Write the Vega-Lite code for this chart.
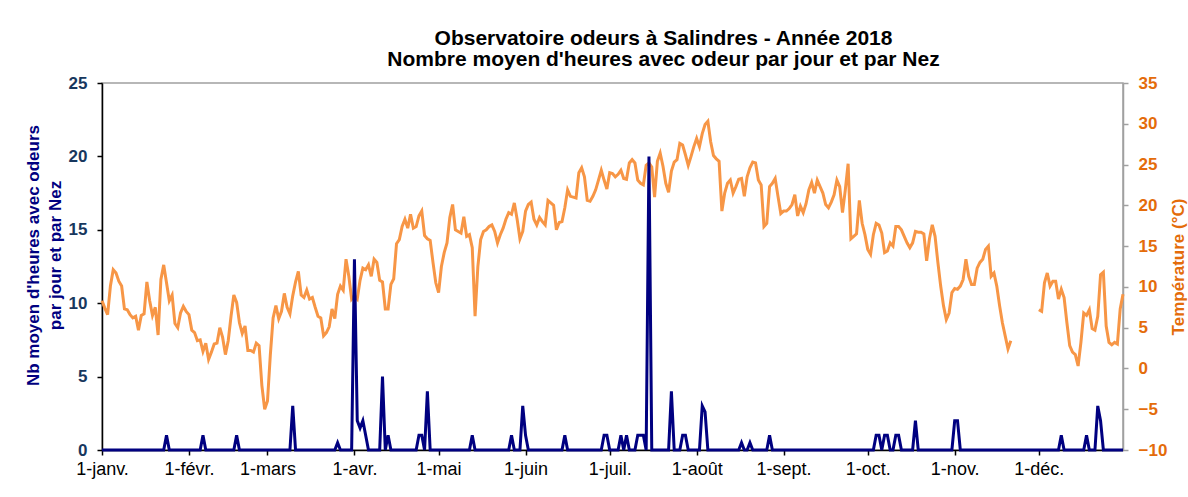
{
"$schema": "https://vega.github.io/schema/vega-lite/v6.json",
"width": 1021, "height": 367,
"autosize": {"type": "none"},
"padding": {"left": 102, "top": 83, "right": 65, "bottom": 47},
"background": "white",
"title": {"text": ["Observatoire odeurs à Salindres - Année 2018", "Nombre moyen d'heures avec odeur par jour et par Nez"], "font": "Liberation Sans", "fontSize": 21, "fontWeight": "bold", "color": "black", "anchor": "middle", "dx": 51, "offset": 4, "lineHeight": 21},
"config": {"view": {"stroke": "#A0A0A0", "strokeWidth": 1.5}, "font": "Liberation Sans"},
"data": {"values": [
{"d":"2018-01-01","t":8.3,"h":0},{"d":"2018-01-02","t":7.4,"h":0},{"d":"2018-01-03","t":6.6,"h":0},{"d":"2018-01-04","t":10.1,"h":0},{"d":"2018-01-05","t":12.1,"h":0},{"d":"2018-01-06","t":11.7,"h":0},{"d":"2018-01-07","t":10.7,"h":0},{"d":"2018-01-08","t":10.1,"h":0},{"d":"2018-01-09","t":7.3,"h":0},{"d":"2018-01-10","t":7.2,"h":0},{"d":"2018-01-11","t":6.6,"h":0},{"d":"2018-01-12","t":6.2,"h":0},{"d":"2018-01-13","t":6.4,"h":0},{"d":"2018-01-14","t":4.7,"h":0},{"d":"2018-01-15","t":6.5,"h":0},{"d":"2018-01-16","t":6.7,"h":0},{"d":"2018-01-17","t":10.6,"h":0},{"d":"2018-01-18","t":8.3,"h":0},{"d":"2018-01-19","t":6.5,"h":0},{"d":"2018-01-20","t":7.5,"h":0},{"d":"2018-01-21","t":4.1,"h":0},{"d":"2018-01-22","t":10.9,"h":0},{"d":"2018-01-23","t":12.7,"h":0},{"d":"2018-01-24","t":10.5,"h":1},{"d":"2018-01-25","t":8.3,"h":0},{"d":"2018-01-26","t":9.0,"h":0},{"d":"2018-01-27","t":5.5,"h":0},{"d":"2018-01-28","t":5.0,"h":0},{"d":"2018-01-29","t":6.8,"h":0},{"d":"2018-01-30","t":7.6,"h":0},{"d":"2018-01-31","t":7.0,"h":0},
{"d":"2018-02-01","t":6.6,"h":0},{"d":"2018-02-02","t":4.7,"h":0},{"d":"2018-02-03","t":4.4,"h":0},{"d":"2018-02-04","t":3.4,"h":0},{"d":"2018-02-05","t":3.5,"h":0},{"d":"2018-02-06","t":2.1,"h":1},{"d":"2018-02-07","t":3.1,"h":0},{"d":"2018-02-08","t":1.1,"h":0},{"d":"2018-02-09","t":2.0,"h":0},{"d":"2018-02-10","t":3.0,"h":0},{"d":"2018-02-11","t":3.1,"h":0},{"d":"2018-02-12","t":5.0,"h":0},{"d":"2018-02-13","t":3.8,"h":0},{"d":"2018-02-14","t":1.7,"h":0},{"d":"2018-02-15","t":3.4,"h":0},{"d":"2018-02-16","t":6.4,"h":0},{"d":"2018-02-17","t":9.0,"h":0},{"d":"2018-02-18","t":8.1,"h":1},{"d":"2018-02-19","t":5.6,"h":0},{"d":"2018-02-20","t":4.3,"h":0},{"d":"2018-02-21","t":5.2,"h":0},{"d":"2018-02-22","t":2.2,"h":0},{"d":"2018-02-23","t":2.2,"h":0},{"d":"2018-02-24","t":2.0,"h":0},{"d":"2018-02-25","t":3.1,"h":0},{"d":"2018-02-26","t":2.8,"h":0},{"d":"2018-02-27","t":-2.1,"h":0},{"d":"2018-02-28","t":-5.0,"h":0},
{"d":"2018-03-01","t":-4.0,"h":0},{"d":"2018-03-02","t":1.6,"h":0},{"d":"2018-03-03","t":6.2,"h":0},{"d":"2018-03-04","t":7.7,"h":0},{"d":"2018-03-05","t":6.1,"h":0},{"d":"2018-03-06","t":7.0,"h":0},{"d":"2018-03-07","t":9.2,"h":0},{"d":"2018-03-08","t":7.5,"h":0},{"d":"2018-03-09","t":6.7,"h":0},{"d":"2018-03-10","t":8.9,"h":3},{"d":"2018-03-11","t":10.6,"h":0},{"d":"2018-03-12","t":11.9,"h":0},{"d":"2018-03-13","t":9.0,"h":0},{"d":"2018-03-14","t":8.7,"h":0},{"d":"2018-03-15","t":9.6,"h":0},{"d":"2018-03-16","t":8.5,"h":0},{"d":"2018-03-17","t":8.7,"h":0},{"d":"2018-03-18","t":7.5,"h":0},{"d":"2018-03-19","t":6.4,"h":0},{"d":"2018-03-20","t":6.2,"h":0},{"d":"2018-03-21","t":4.0,"h":0},{"d":"2018-03-22","t":4.4,"h":0},{"d":"2018-03-23","t":5.1,"h":0},{"d":"2018-03-24","t":7.3,"h":0},{"d":"2018-03-25","t":6.1,"h":0},{"d":"2018-03-26","t":9.1,"h":0.5},{"d":"2018-03-27","t":10.1,"h":0},{"d":"2018-03-28","t":9.6,"h":0},{"d":"2018-03-29","t":13.4,"h":0},{"d":"2018-03-30","t":11.3,"h":0},{"d":"2018-03-31","t":8.5,"h":0},
{"d":"2018-04-01","t":8.9,"h":13},{"d":"2018-04-02","t":8.5,"h":2},{"d":"2018-04-03","t":10.8,"h":1.5},{"d":"2018-04-04","t":12.3,"h":2},{"d":"2018-04-05","t":12.1,"h":1},{"d":"2018-04-06","t":12.7,"h":0},{"d":"2018-04-07","t":11.3,"h":0},{"d":"2018-04-08","t":13.4,"h":0},{"d":"2018-04-09","t":13.0,"h":0},{"d":"2018-04-10","t":10.8,"h":0},{"d":"2018-04-11","t":10.6,"h":5},{"d":"2018-04-12","t":7.3,"h":0},{"d":"2018-04-13","t":7.3,"h":1},{"d":"2018-04-14","t":10.3,"h":0},{"d":"2018-04-15","t":11.0,"h":0},{"d":"2018-04-16","t":15.3,"h":0},{"d":"2018-04-17","t":15.8,"h":0},{"d":"2018-04-18","t":17.4,"h":0},{"d":"2018-04-19","t":18.3,"h":0},{"d":"2018-04-20","t":17.2,"h":0},{"d":"2018-04-21","t":18.9,"h":0},{"d":"2018-04-22","t":17.2,"h":0},{"d":"2018-04-23","t":17.4,"h":0},{"d":"2018-04-24","t":18.7,"h":1},{"d":"2018-04-25","t":19.3,"h":1},{"d":"2018-04-26","t":16.3,"h":0},{"d":"2018-04-27","t":15.9,"h":4},{"d":"2018-04-28","t":15.7,"h":0},{"d":"2018-04-29","t":13.0,"h":0},{"d":"2018-04-30","t":10.5,"h":0},
{"d":"2018-05-01","t":9.3,"h":0},{"d":"2018-05-02","t":12.5,"h":0},{"d":"2018-05-03","t":14.2,"h":0},{"d":"2018-05-04","t":15.4,"h":0},{"d":"2018-05-05","t":18.5,"h":0},{"d":"2018-05-06","t":20.1,"h":0},{"d":"2018-05-07","t":17.0,"h":0},{"d":"2018-05-08","t":16.8,"h":0},{"d":"2018-05-09","t":16.6,"h":0},{"d":"2018-05-10","t":18.6,"h":0},{"d":"2018-05-11","t":16.2,"h":0},{"d":"2018-05-12","t":16.4,"h":0},{"d":"2018-05-13","t":14.8,"h":1},{"d":"2018-05-14","t":6.4,"h":0},{"d":"2018-05-15","t":12.5,"h":0},{"d":"2018-05-16","t":15.8,"h":0},{"d":"2018-05-17","t":16.8,"h":0},{"d":"2018-05-18","t":17.0,"h":0},{"d":"2018-05-19","t":17.4,"h":0},{"d":"2018-05-20","t":17.6,"h":0},{"d":"2018-05-21","t":16.8,"h":0},{"d":"2018-05-22","t":15.4,"h":0},{"d":"2018-05-23","t":16.4,"h":0},{"d":"2018-05-24","t":17.2,"h":0},{"d":"2018-05-25","t":18.3,"h":0},{"d":"2018-05-26","t":19.1,"h":0},{"d":"2018-05-27","t":18.9,"h":1},{"d":"2018-05-28","t":20.3,"h":0},{"d":"2018-05-29","t":18.3,"h":0},{"d":"2018-05-30","t":15.9,"h":0},{"d":"2018-05-31","t":16.8,"h":3},
{"d":"2018-06-01","t":19.3,"h":1},{"d":"2018-06-02","t":20.1,"h":0},{"d":"2018-06-03","t":20.4,"h":0},{"d":"2018-06-04","t":18.3,"h":0},{"d":"2018-06-05","t":17.6,"h":0},{"d":"2018-06-06","t":18.5,"h":0},{"d":"2018-06-07","t":18.0,"h":0},{"d":"2018-06-08","t":17.6,"h":0},{"d":"2018-06-09","t":20.6,"h":0},{"d":"2018-06-10","t":20.3,"h":0},{"d":"2018-06-11","t":20.0,"h":0},{"d":"2018-06-12","t":17.0,"h":0},{"d":"2018-06-13","t":17.9,"h":0},{"d":"2018-06-14","t":18.0,"h":0},{"d":"2018-06-15","t":19.7,"h":1},{"d":"2018-06-16","t":21.9,"h":0},{"d":"2018-06-17","t":21.1,"h":0},{"d":"2018-06-18","t":21.0,"h":0},{"d":"2018-06-19","t":20.9,"h":0},{"d":"2018-06-20","t":24.0,"h":0},{"d":"2018-06-21","t":24.6,"h":0},{"d":"2018-06-22","t":23.5,"h":0},{"d":"2018-06-23","t":20.6,"h":0},{"d":"2018-06-24","t":20.5,"h":0},{"d":"2018-06-25","t":21.1,"h":0},{"d":"2018-06-26","t":21.9,"h":0},{"d":"2018-06-27","t":23.1,"h":0},{"d":"2018-06-28","t":24.3,"h":0},{"d":"2018-06-29","t":23.1,"h":1},{"d":"2018-06-30","t":22.0,"h":1},
{"d":"2018-07-01","t":24.0,"h":0},{"d":"2018-07-02","t":23.9,"h":0},{"d":"2018-07-03","t":23.5,"h":0},{"d":"2018-07-04","t":23.8,"h":0},{"d":"2018-07-05","t":24.3,"h":1},{"d":"2018-07-06","t":23.3,"h":0},{"d":"2018-07-07","t":23.2,"h":1},{"d":"2018-07-08","t":25.2,"h":0},{"d":"2018-07-09","t":25.6,"h":0},{"d":"2018-07-10","t":25.2,"h":0},{"d":"2018-07-11","t":23.1,"h":1},{"d":"2018-07-12","t":22.7,"h":1},{"d":"2018-07-13","t":22.5,"h":1},{"d":"2018-07-14","t":24.9,"h":0},{"d":"2018-07-15","t":25.2,"h":20},{"d":"2018-07-16","t":24.7,"h":0},{"d":"2018-07-17","t":21.0,"h":0},{"d":"2018-07-18","t":25.4,"h":0},{"d":"2018-07-19","t":26.4,"h":0},{"d":"2018-07-20","t":24.8,"h":0},{"d":"2018-07-21","t":22.7,"h":0},{"d":"2018-07-22","t":21.6,"h":0},{"d":"2018-07-23","t":24.2,"h":4},{"d":"2018-07-24","t":25.3,"h":0},{"d":"2018-07-25","t":25.6,"h":0},{"d":"2018-07-26","t":27.6,"h":0},{"d":"2018-07-27","t":27.4,"h":1},{"d":"2018-07-28","t":26.2,"h":1},{"d":"2018-07-29","t":24.9,"h":0},{"d":"2018-07-30","t":26.0,"h":0},{"d":"2018-07-31","t":27.2,"h":0},
{"d":"2018-08-01","t":28.2,"h":0},{"d":"2018-08-02","t":27.2,"h":0},{"d":"2018-08-03","t":28.8,"h":3},{"d":"2018-08-04","t":29.9,"h":2.6},{"d":"2018-08-05","t":30.3,"h":0},{"d":"2018-08-06","t":27.8,"h":0},{"d":"2018-08-07","t":26.1,"h":0},{"d":"2018-08-08","t":25.7,"h":0},{"d":"2018-08-09","t":25.4,"h":0},{"d":"2018-08-10","t":19.3,"h":0},{"d":"2018-08-11","t":21.5,"h":0},{"d":"2018-08-12","t":22.7,"h":0},{"d":"2018-08-13","t":23.1,"h":0},{"d":"2018-08-14","t":21.5,"h":0},{"d":"2018-08-15","t":22.3,"h":0},{"d":"2018-08-16","t":23.2,"h":0},{"d":"2018-08-17","t":23.3,"h":0.5},{"d":"2018-08-18","t":21.1,"h":0},{"d":"2018-08-19","t":23.5,"h":0},{"d":"2018-08-20","t":24.6,"h":0.5},{"d":"2018-08-21","t":25.3,"h":0},{"d":"2018-08-22","t":25.2,"h":0},{"d":"2018-08-23","t":23.1,"h":0},{"d":"2018-08-24","t":22.5,"h":0},{"d":"2018-08-25","t":17.4,"h":0},{"d":"2018-08-26","t":17.8,"h":0},{"d":"2018-08-27","t":22.3,"h":1},{"d":"2018-08-28","t":22.7,"h":0},{"d":"2018-08-29","t":23.3,"h":0},{"d":"2018-08-30","t":21.1,"h":0},{"d":"2018-08-31","t":19.0,"h":0},
{"d":"2018-09-01","t":19.3,"h":0},{"d":"2018-09-02","t":19.3,"h":0},{"d":"2018-09-03","t":19.6,"h":0},{"d":"2018-09-04","t":20.1,"h":0},{"d":"2018-09-05","t":21.3,"h":0},{"d":"2018-09-06","t":18.7,"h":0},{"d":"2018-09-07","t":19.9,"h":0},{"d":"2018-09-08","t":19.1,"h":0},{"d":"2018-09-09","t":20.2,"h":0},{"d":"2018-09-10","t":21.9,"h":0},{"d":"2018-09-11","t":22.8,"h":0},{"d":"2018-09-12","t":21.5,"h":0},{"d":"2018-09-13","t":23.1,"h":0},{"d":"2018-09-14","t":22.3,"h":0},{"d":"2018-09-15","t":21.5,"h":0},{"d":"2018-09-16","t":20.1,"h":0},{"d":"2018-09-17","t":19.7,"h":0},{"d":"2018-09-18","t":20.4,"h":0},{"d":"2018-09-19","t":21.3,"h":0},{"d":"2018-09-20","t":23.1,"h":0},{"d":"2018-09-21","t":22.3,"h":0},{"d":"2018-09-22","t":19.1,"h":0},{"d":"2018-09-23","t":21.9,"h":0},{"d":"2018-09-24","t":25.1,"h":0},{"d":"2018-09-25","t":15.9,"h":0},{"d":"2018-09-26","t":16.2,"h":0},{"d":"2018-09-27","t":16.5,"h":0},{"d":"2018-09-28","t":20.6,"h":0},{"d":"2018-09-29","t":17.8,"h":0},{"d":"2018-09-30","t":16.4,"h":0},
{"d":"2018-10-01","t":14.6,"h":0},{"d":"2018-10-02","t":14.0,"h":0},{"d":"2018-10-03","t":16.4,"h":0},{"d":"2018-10-04","t":17.8,"h":1},{"d":"2018-10-05","t":17.6,"h":1},{"d":"2018-10-06","t":16.6,"h":0},{"d":"2018-10-07","t":14.2,"h":1},{"d":"2018-10-08","t":14.4,"h":1},{"d":"2018-10-09","t":15.4,"h":0},{"d":"2018-10-10","t":15.0,"h":0},{"d":"2018-10-11","t":17.4,"h":1},{"d":"2018-10-12","t":17.4,"h":1},{"d":"2018-10-13","t":17.0,"h":0},{"d":"2018-10-14","t":16.2,"h":0},{"d":"2018-10-15","t":15.4,"h":0},{"d":"2018-10-16","t":14.8,"h":0},{"d":"2018-10-17","t":15.4,"h":0},{"d":"2018-10-18","t":16.8,"h":2},{"d":"2018-10-19","t":16.7,"h":0},{"d":"2018-10-20","t":16.7,"h":0},{"d":"2018-10-21","t":16.5,"h":0},{"d":"2018-10-22","t":13.2,"h":0},{"d":"2018-10-23","t":15.9,"h":0},{"d":"2018-10-24","t":17.6,"h":0},{"d":"2018-10-25","t":16.2,"h":0},{"d":"2018-10-26","t":13.0,"h":0},{"d":"2018-10-27","t":10.1,"h":0},{"d":"2018-10-28","t":7.7,"h":0},{"d":"2018-10-29","t":6.0,"h":0},{"d":"2018-10-30","t":6.8,"h":0},{"d":"2018-10-31","t":9.3,"h":0},
{"d":"2018-11-01","t":9.8,"h":2},{"d":"2018-11-02","t":9.7,"h":2},{"d":"2018-11-03","t":10.1,"h":0},{"d":"2018-11-04","t":10.9,"h":0},{"d":"2018-11-05","t":13.4,"h":0},{"d":"2018-11-06","t":11.3,"h":0},{"d":"2018-11-07","t":10.3,"h":0},{"d":"2018-11-08","t":10.3,"h":0},{"d":"2018-11-09","t":12.3,"h":0},{"d":"2018-11-10","t":13.0,"h":0},{"d":"2018-11-11","t":13.4,"h":0},{"d":"2018-11-12","t":14.6,"h":0},{"d":"2018-11-13","t":15.0,"h":0},{"d":"2018-11-14","t":11.3,"h":0},{"d":"2018-11-15","t":11.7,"h":0},{"d":"2018-11-16","t":10.1,"h":0},{"d":"2018-11-17","t":7.7,"h":0},{"d":"2018-11-18","t":5.6,"h":0},{"d":"2018-11-19","t":4.0,"h":0},{"d":"2018-11-20","t":2.4,"h":0},{"d":"2018-11-21","t":3.4,"h":0},{"d":"2018-11-22","t":null,"h":0},{"d":"2018-11-23","t":null,"h":0},{"d":"2018-11-24","t":null,"h":0},{"d":"2018-11-25","t":null,"h":0},{"d":"2018-11-26","t":null,"h":0},{"d":"2018-11-27","t":null,"h":0},{"d":"2018-11-28","t":null,"h":0},{"d":"2018-11-29","t":null,"h":0},{"d":"2018-11-30","t":null,"h":0},
{"d":"2018-12-01","t":7.2,"h":0},{"d":"2018-12-02","t":7.0,"h":0},{"d":"2018-12-03","t":10.5,"h":0},{"d":"2018-12-04","t":11.7,"h":0},{"d":"2018-12-05","t":10.1,"h":0},{"d":"2018-12-06","t":10.7,"h":0},{"d":"2018-12-07","t":10.7,"h":0},{"d":"2018-12-08","t":8.5,"h":0},{"d":"2018-12-09","t":9.7,"h":1},{"d":"2018-12-10","t":8.7,"h":0},{"d":"2018-12-11","t":5.6,"h":0},{"d":"2018-12-12","t":2.8,"h":0},{"d":"2018-12-13","t":2.0,"h":0},{"d":"2018-12-14","t":1.7,"h":0},{"d":"2018-12-15","t":0.3,"h":0},{"d":"2018-12-16","t":3.2,"h":0},{"d":"2018-12-17","t":6.8,"h":0},{"d":"2018-12-18","t":6.5,"h":1},{"d":"2018-12-19","t":7.2,"h":0},{"d":"2018-12-20","t":4.9,"h":0},{"d":"2018-12-21","t":4.7,"h":0},{"d":"2018-12-22","t":6.4,"h":3},{"d":"2018-12-23","t":11.5,"h":2},{"d":"2018-12-24","t":11.8,"h":0},{"d":"2018-12-25","t":5.2,"h":0},{"d":"2018-12-26","t":3.2,"h":0},{"d":"2018-12-27","t":2.9,"h":0},{"d":"2018-12-28","t":3.2,"h":0},{"d":"2018-12-29","t":3.0,"h":0},{"d":"2018-12-30","t":7.3,"h":0},{"d":"2018-12-31","t":9.1,"h":0}
]},
"encoding": {
  "x": {"field": "d", "type": "temporal",
    "scale": {"type": "utc", "domain": [{"year": 2018, "month": 1, "date": 1, "utc": true}, {"year": 2018, "month": 12, "date": 31, "utc": true}]},
    "axis": {"title": null, "grid": false,
      "values": [{"year":2018,"month":1,"date":1,"utc":true},{"year":2018,"month":2,"date":1,"utc":true},{"year":2018,"month":3,"date":1,"utc":true},{"year":2018,"month":4,"date":1,"utc":true},{"year":2018,"month":5,"date":1,"utc":true},{"year":2018,"month":6,"date":1,"utc":true},{"year":2018,"month":7,"date":1,"utc":true},{"year":2018,"month":8,"date":1,"utc":true},{"year":2018,"month":9,"date":1,"utc":true},{"year":2018,"month":10,"date":1,"utc":true},{"year":2018,"month":11,"date":1,"utc":true},{"year":2018,"month":12,"date":1,"utc":true}],
      "labelExpr": "'1-' + ['janv.','févr.','mars','avr.','mai','juin','juil.','août','sept.','oct.','nov.','déc.'][utcmonth(datum.value)]",
      "labelFont": "Liberation Sans", "labelFontSize": 18, "labelColor": "black", "labelPadding": 5,
      "labelOverlap": false, "labelFlush": false,
      "domainColor": "black", "domainWidth": 1.5, "tickColor": "black", "tickSize": 5, "tickWidth": 1.5}
  }
},
"layer": [
  {"mark": {"type": "line", "color": "#F79646", "strokeWidth": 3, "invalid": "break-paths-show-domains"},
   "encoding": {"y": {"field": "t", "type": "quantitative",
     "scale": {"domain": [-10, 35], "nice": false, "zero": false},
     "axis": {"orient": "right", "values": [-10,-5,0,5,10,15,20,25,30,35], "grid": false,
       "title": "Température (°C)", "titleAngle": 270, "titleBaseline": "top", "titleColor": "#E46C0A", "titleFont": "Liberation Sans", "titleFontSize": 17, "titleFontWeight": "bold", "titlePadding": 4,
       "labelColor": "#E46C0A", "labelFont": "Liberation Sans", "labelFontSize": 17, "labelFontWeight": "bold", "labelPadding": 10,
       "domainColor": "#A0A0A0", "domainWidth": 1.5, "tickColor": "#A0A0A0", "tickSize": 5, "tickWidth": 1.5}}}},
  {"mark": {"type": "line", "color": "#000080", "strokeWidth": 3},
   "encoding": {"y": {"field": "h", "type": "quantitative",
     "scale": {"domain": [0, 25], "nice": false},
     "axis": {"orient": "left", "values": [0,5,10,15,20,25], "grid": false,
       "title": ["Nb moyen d'heures avec odeurs", "par jour et par Nez"], "titleColor": "#000080", "titleFont": "Liberation Sans", "titleFontSize": 17, "titleFontWeight": "bold", "titlePadding": 4, "titleLineHeight": 22, "titleY": 172,
       "labelColor": "#17375E", "labelFont": "Liberation Sans", "labelFontSize": 17, "labelFontWeight": "bold", "labelPadding": 10,
       "domainColor": "black", "domainWidth": 1.5, "tickColor": "black", "tickSize": 5, "tickWidth": 1.5}}}}
],
"resolve": {"scale": {"y": "independent"}}
}
